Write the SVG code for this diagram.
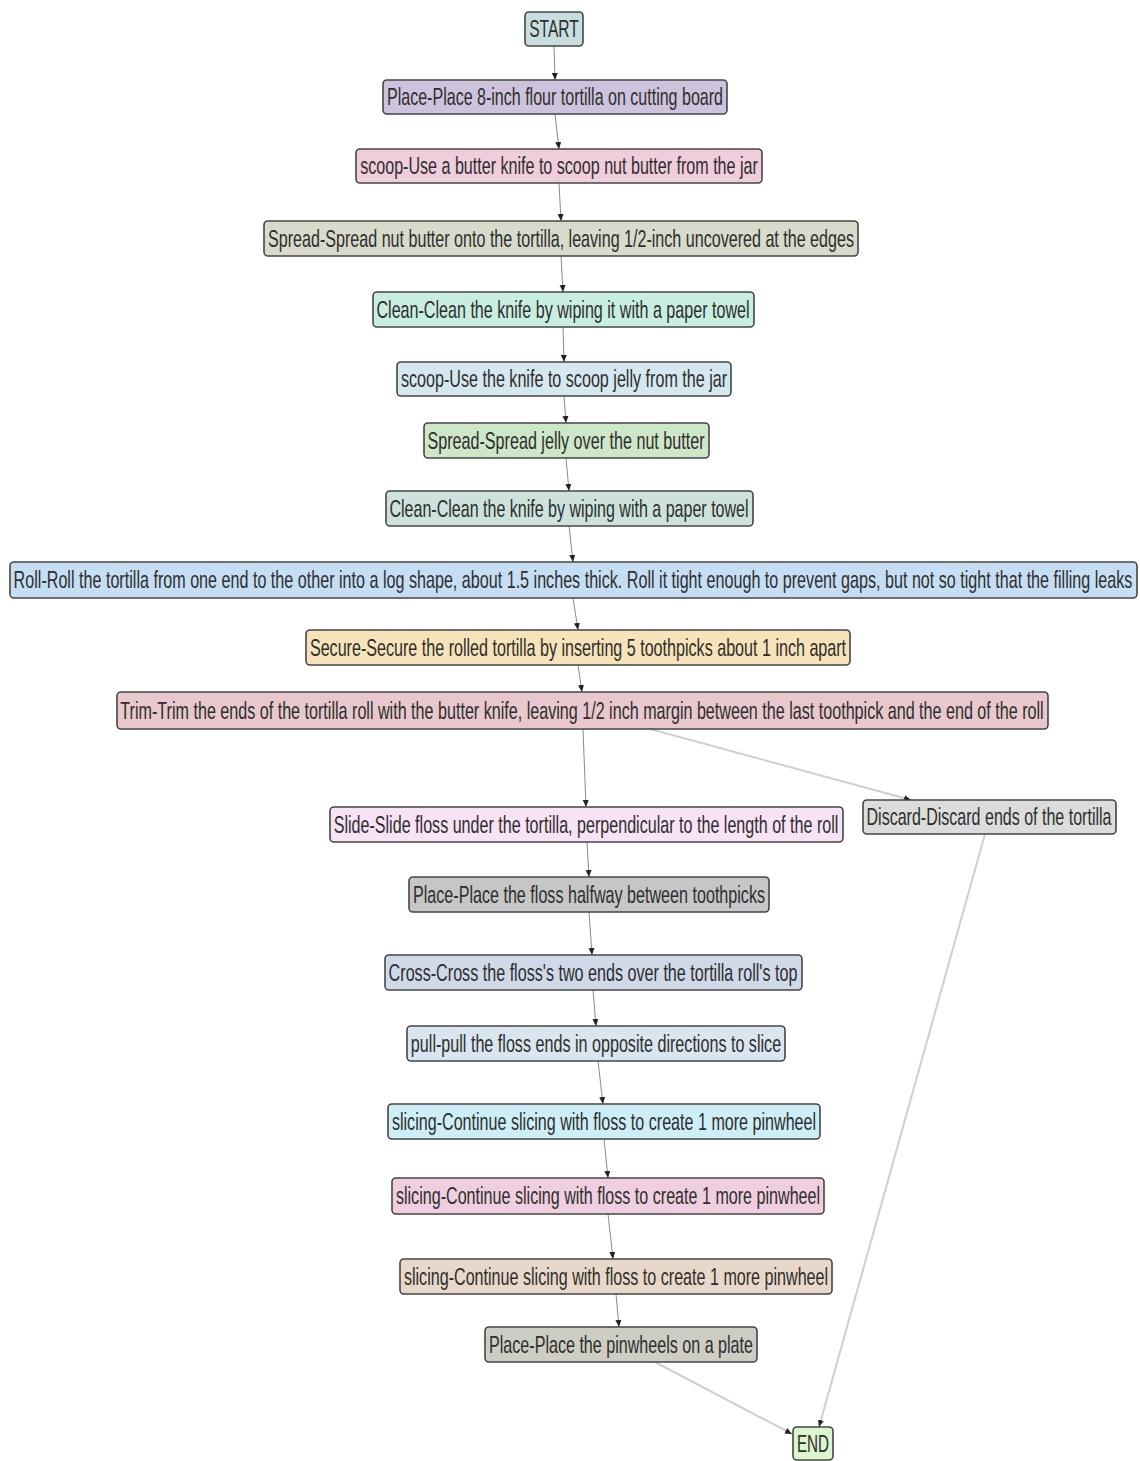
<svg xmlns="http://www.w3.org/2000/svg" width="1140" height="1461" viewBox="0 0 1140 1461">
<style>
.n rect{stroke:#454545;stroke-width:1.6}
.n text{font-family:"Liberation Sans",Arial,sans-serif;font-size:24px;fill:#2e2e2e;text-anchor:middle}
.e{fill:none;stroke:#8a8a8a;stroke-width:1}
.d{fill:none;stroke:#cfcfcf;stroke-width:2}
</style>
<defs>
<marker id="a" markerUnits="userSpaceOnUse" markerWidth="8" markerHeight="8" refX="7" refY="3" orient="auto">
<path d="M0,0 L7,3 L0,6 Z" fill="#222"/>
</marker>
</defs>
<rect width="1140" height="1461" fill="#fff"/>
<g id="connectors">
<path class="e" d="M554,46 L555,80" marker-end="url(#a)"/>
<path class="e" d="M555,114 L559,149" marker-end="url(#a)"/>
<path class="e" d="M559,183 L561,221" marker-end="url(#a)"/>
<path class="e" d="M561,256 L563,292" marker-end="url(#a)"/>
<path class="e" d="M563,327 L564,362" marker-end="url(#a)"/>
<path class="e" d="M564,396 L566,423" marker-end="url(#a)"/>
<path class="e" d="M566,458 L569,491" marker-end="url(#a)"/>
<path class="e" d="M569,526 L573,562" marker-end="url(#a)"/>
<path class="e" d="M573,598 L578,630" marker-end="url(#a)"/>
<path class="e" d="M578,665 L582,692" marker-end="url(#a)"/>
<path class="e" d="M583,729 L586,807" marker-end="url(#a)"/>
<path class="d" d="M650,729 L911,800" marker-end="url(#a)"/>
<path class="e" d="M587,842 L589,877" marker-end="url(#a)"/>
<path class="e" d="M589,912 L592,955" marker-end="url(#a)"/>
<path class="e" d="M593,990 L596,1026" marker-end="url(#a)"/>
<path class="e" d="M598,1061 L603,1104" marker-end="url(#a)"/>
<path class="e" d="M604,1139 L608,1178" marker-end="url(#a)"/>
<path class="e" d="M608,1214 L613,1259" marker-end="url(#a)"/>
<path class="e" d="M616,1294 L619,1327" marker-end="url(#a)"/>
<path class="d" d="M655,1362 L792,1434" marker-end="url(#a)"/>
<path class="d" d="M985,834 L819,1427" marker-end="url(#a)"/>
</g>
<g id="n1" class="n"><rect x="525" y="12" width="58" height="34" rx="4" fill="#c8dede"/><text transform="translate(554,37) scale(0.7,1)" textLength="71" lengthAdjust="spacingAndGlyphs">START</text></g>
<g id="n2" class="n"><rect x="383" y="80" width="344" height="34" rx="4" fill="#cec3dc"/><text transform="translate(555,105) scale(0.7,1)" textLength="480" lengthAdjust="spacingAndGlyphs">Place-Place 8-inch flour tortilla on cutting board</text></g>
<g id="n3" class="n"><rect x="356" y="149" width="406" height="34" rx="4" fill="#f0cddb"/><text transform="translate(559,174) scale(0.7,1)" textLength="568" lengthAdjust="spacingAndGlyphs">scoop-Use a butter knife to scoop nut butter from the jar</text></g>
<g id="n4" class="n"><rect x="264" y="221" width="594" height="35" rx="4" fill="#d8dacb"/><text transform="translate(561,246.5) scale(0.7,1)" textLength="837" lengthAdjust="spacingAndGlyphs">Spread-Spread nut butter onto the tortilla, leaving 1/2-inch uncovered at the edges</text></g>
<g id="n5" class="n"><rect x="373" y="292" width="381" height="35" rx="4" fill="#c8eee2"/><text transform="translate(563,317.5) scale(0.7,1)" textLength="533" lengthAdjust="spacingAndGlyphs">Clean-Clean the knife by wiping it with a paper towel</text></g>
<g id="n6" class="n"><rect x="397" y="362" width="334" height="34" rx="4" fill="#d5e8ef"/><text transform="translate(564,387) scale(0.7,1)" textLength="466" lengthAdjust="spacingAndGlyphs">scoop-Use the knife to scoop jelly from the jar</text></g>
<g id="n7" class="n"><rect x="424" y="423" width="285" height="35" rx="4" fill="#cfe7c9"/><text transform="translate(566,448.5) scale(0.7,1)" textLength="396" lengthAdjust="spacingAndGlyphs">Spread-Spread jelly over the nut butter</text></g>
<g id="n8" class="n"><rect x="386" y="491" width="367" height="35" rx="4" fill="#cde2dc"/><text transform="translate(569,516.5) scale(0.7,1)" textLength="513" lengthAdjust="spacingAndGlyphs">Clean-Clean the knife by wiping with a paper towel</text></g>
<g id="n9" class="n"><rect x="10" y="562" width="1127" height="36" rx="4" fill="#c5def4"/><text transform="translate(573,588) scale(0.58,1)" textLength="1929" lengthAdjust="spacingAndGlyphs">Roll-Roll the tortilla from one end to the other into a log shape, about 1.5 inches thick. Roll it tight enough to prevent gaps, but not so tight that the filling leaks</text></g>
<g id="n10" class="n"><rect x="306" y="630" width="544" height="35" rx="4" fill="#f6e3b9"/><text transform="translate(578,655.5) scale(0.7,1)" textLength="766" lengthAdjust="spacingAndGlyphs">Secure-Secure the rolled tortilla by inserting 5 toothpicks about 1 inch apart</text></g>
<g id="n11" class="n"><rect x="117" y="692" width="931" height="37" rx="4" fill="#e8c8cc"/><text transform="translate(582,718.5) scale(0.7,1)" textLength="1319" lengthAdjust="spacingAndGlyphs">Trim-Trim the ends of the tortilla roll with the butter knife, leaving 1/2 inch margin between the last toothpick and the end of the roll</text></g>
<g id="n12" class="n"><rect x="330" y="807" width="513" height="35" rx="4" fill="#f7e2f6"/><text transform="translate(586,832.5) scale(0.7,1)" textLength="721" lengthAdjust="spacingAndGlyphs">Slide-Slide floss under the tortilla, perpendicular to the length of the roll</text></g>
<g id="n13" class="n"><rect x="863" y="800" width="253" height="34" rx="4" fill="#dcdcdc"/><text transform="translate(989,825) scale(0.7,1)" textLength="350" lengthAdjust="spacingAndGlyphs">Discard-Discard ends of the tortilla</text></g>
<g id="n14" class="n"><rect x="409" y="877" width="360" height="35" rx="4" fill="#c6c6c6"/><text transform="translate(589,902.5) scale(0.7,1)" textLength="503" lengthAdjust="spacingAndGlyphs">Place-Place the floss halfway between toothpicks</text></g>
<g id="n15" class="n"><rect x="385" y="955" width="417" height="35" rx="4" fill="#cfd9e8"/><text transform="translate(593,980.5) scale(0.7,1)" textLength="584" lengthAdjust="spacingAndGlyphs">Cross-Cross the floss's two ends over the tortilla roll's top</text></g>
<g id="n16" class="n"><rect x="407" y="1026" width="378" height="35" rx="4" fill="#d9e6ef"/><text transform="translate(596,1051.5) scale(0.7,1)" textLength="529" lengthAdjust="spacingAndGlyphs">pull-pull the floss ends in opposite directions to slice</text></g>
<g id="n17" class="n"><rect x="388" y="1104" width="432" height="35" rx="4" fill="#cdeef6"/><text transform="translate(604,1129.5) scale(0.7,1)" textLength="606" lengthAdjust="spacingAndGlyphs">slicing-Continue slicing with floss to create 1 more pinwheel</text></g>
<g id="n18" class="n"><rect x="392" y="1178" width="432" height="36" rx="4" fill="#efcfdf"/><text transform="translate(608,1204) scale(0.7,1)" textLength="606" lengthAdjust="spacingAndGlyphs">slicing-Continue slicing with floss to create 1 more pinwheel</text></g>
<g id="n19" class="n"><rect x="400" y="1259" width="432" height="35" rx="4" fill="#e8d8c9"/><text transform="translate(616,1284.5) scale(0.7,1)" textLength="606" lengthAdjust="spacingAndGlyphs">slicing-Continue slicing with floss to create 1 more pinwheel</text></g>
<g id="n20" class="n"><rect x="485" y="1327" width="272" height="35" rx="4" fill="#cecdc4"/><text transform="translate(621,1352.5) scale(0.7,1)" textLength="377" lengthAdjust="spacingAndGlyphs">Place-Place the pinwheels on a plate</text></g>
<g id="n21" class="n"><rect x="793" y="1427" width="40" height="33" rx="4" fill="#dbf6cf"/><text transform="translate(813,1451.5) scale(0.7,1)" textLength="46" lengthAdjust="spacingAndGlyphs">END</text></g>
</svg>
